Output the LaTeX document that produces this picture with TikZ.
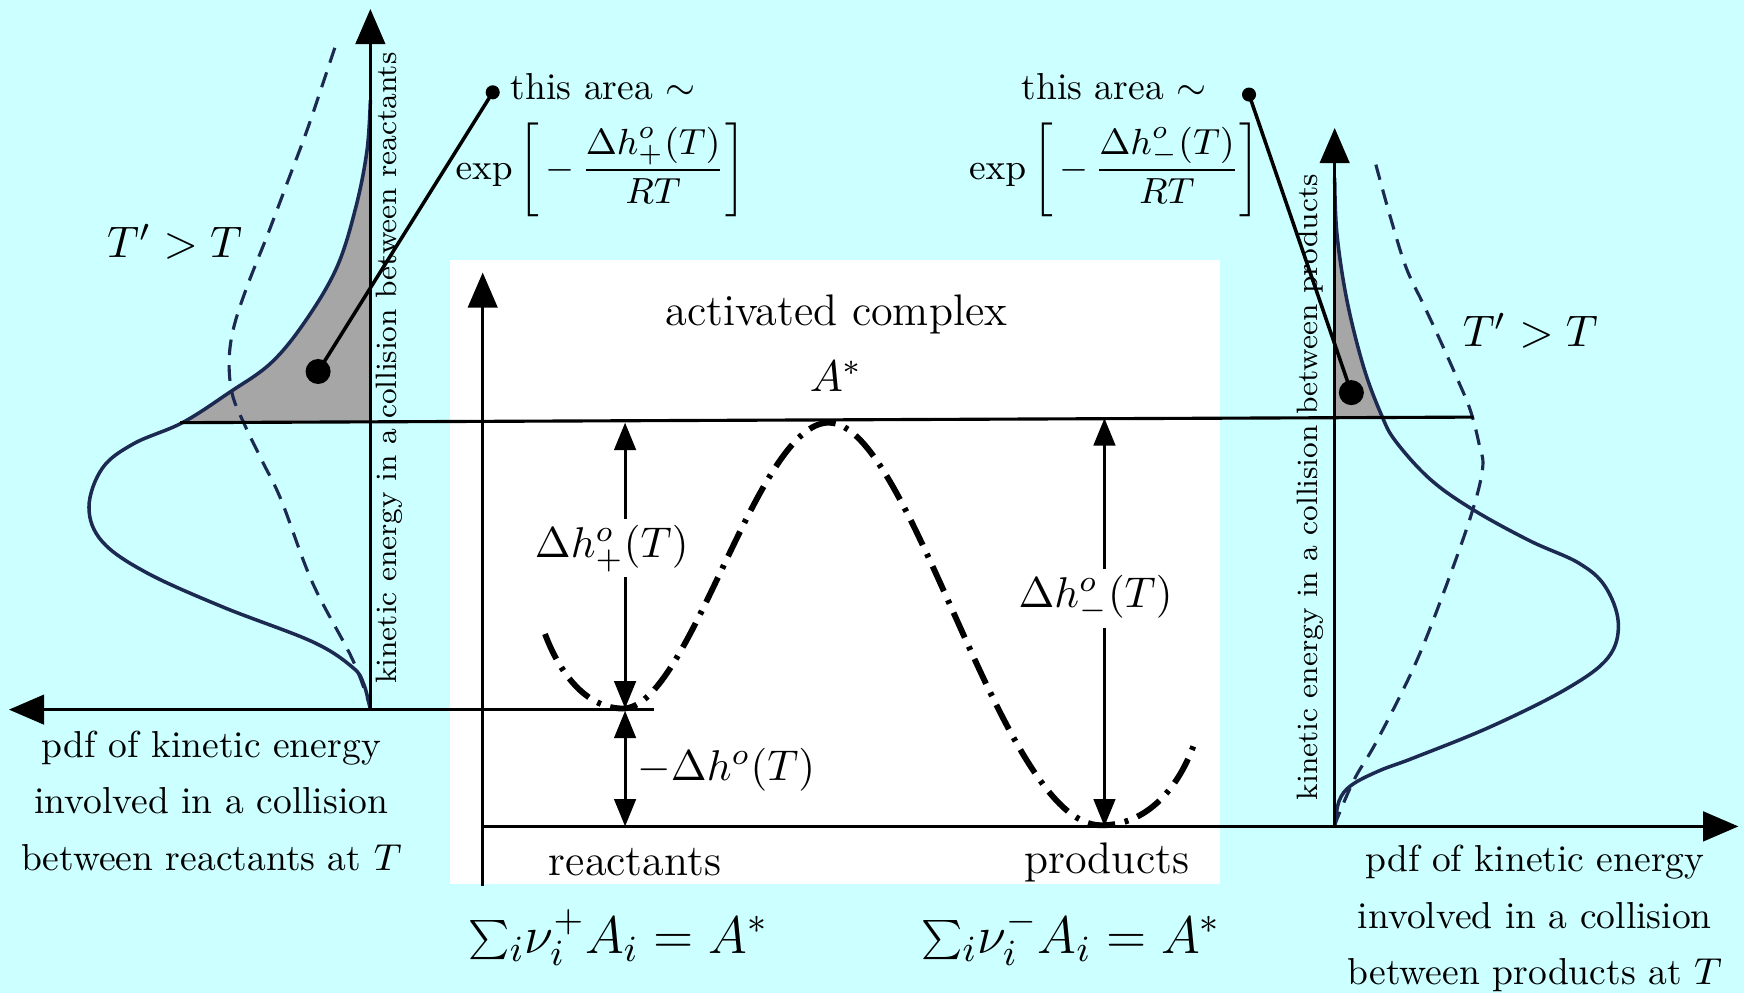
\documentclass[tikz,border=0pt]{standalone}
\usepackage{fix-cm}
\usetikzlibrary{arrows.meta}
\definecolor{bgcyan}{RGB}{204,255,255}
\definecolor{pdfcol}{RGB}{28,42,82}
\tikzset{
  axisline/.style={line width=0.9pt, -{Triangle[length=9pt,width=7.5pt]}},
  dimarrow/.style={line width=0.8pt, {Triangle[length=7pt,width=5.5pt]}-{Triangle[length=7pt,width=5.5pt]}},
  levelline/.style={line width=0.8pt},
  pdfcurve/.style={pdfcol, line width=0.9pt},
  pdfdash/.style={pdfcol, line width=0.8pt, dash pattern=on 4pt off 2.6pt},
  energycurve/.style={line width=1.5pt, dash pattern=on 7pt off 2.5pt on 1pt off 2.5pt},
  bigdot/.style={circle, fill=black, inner sep=0pt, minimum size=6.4pt},
  smalldot/.style={circle, fill=black, inner sep=0pt, minimum size=3.6pt},
  pdftext/.style={align=center, font=\fontsize{9.6}{14.4}\selectfont},
  midtext/.style={font=\fontsize{11.3}{13}\selectfont},
  dimtext/.style={font=\fontsize{11}{13}\selectfont},
  areatext/.style={font=\fontsize{9.6}{12}\selectfont},
  exptext/.style={font=\fontsize{9.3}{12}\selectfont},
  kintext/.style={font=\fontsize{7.55}{9}\selectfont, rotate=90, inner sep=0pt},
  tlabel/.style={font=\fontsize{11.3}{14}\selectfont},
  sumtext/.style={font=\fontsize{13.5}{16}\selectfont},
  whitelabel/.style={fill=white, inner sep=1.5pt, font=\fontsize{11}{13}\selectfont}
}
\begin{document}
\begin{tikzpicture}[x=0.01cm,y=-0.01cm]
\fill[bgcyan] (0,0) rectangle (1568,893);
\useasboundingbox (0,0) rectangle (1568,893);
\fill[white] (405,234) rectangle (1097,795);

% key coordinates
\coordinate (LO) at (333,638);
\coordinate (LTop) at (333,8);
\coordinate (LLeft) at (8,638);
\coordinate (ReacEnd) at (588,638);
\coordinate (ActL) at (162,380);
\coordinate (ActR) at (1325,375);
\coordinate (MBot) at (434,797);
\coordinate (MTop) at (434,245);
\coordinate (BaseL) at (434,743);
\coordinate (BaseR) at (1563,743);
\coordinate (RO) at (1200,743);
\coordinate (RTop) at (1200,115);
\coordinate (DpTop) at (562,380);
\coordinate (DpBot) at (562,637);
\coordinate (DrTop) at (562,639);
\coordinate (DrBot) at (562,743);
\coordinate (DmTop) at (993,376);
\coordinate (DmBot) at (993,743);

% gray areas
\begin{scope}
  \clip (0,0) rectangle (333,380);
  \fill[gray!70] plot[smooth, tension=0.6] coordinates {(333,638) (327,615) (317,600) (281,577) (201,546) (132,515) (92,487) (80,456) (92,421) (120,399) (164,380) (206,353) (244,326) (275,288) (303,240) (320,186) (330,135) (333,90)} -- cycle;
\end{scope}
\begin{scope}
  \clip (1200,0) rectangle (1568,375.5);
  \fill[gray!70] plot[smooth, tension=0.6] coordinates {(1200,743) (1204,720) (1215,706) (1240,693) (1272,681) (1341,653) (1409,619) (1446,591) (1455,560) (1443,527) (1419,506) (1375,486) (1324,458) (1286,431) (1255,397) (1242,373) (1226,330) (1211,270) (1202,210) (1200,160)} -- cycle;
\end{scope}

% pdf curves
\draw[pdfcurve] plot[smooth, tension=0.6] coordinates {(333,638) (327,615) (317,600) (281,577) (201,546) (132,515) (92,487) (80,456) (92,421) (120,399) (164,380) (206,353) (244,326) (275,288) (303,240) (320,186) (330,135) (333,90)};
\draw[pdfdash] plot[smooth, tension=0.6] coordinates {(301,43) (288,82) (275,120) (258,165) (241,210) (222,258) (210,295) (206,325) (209,355) (220,382) (236,415) (253,450) (281,524) (317,593) (333,636)};
\draw[pdfcurve] plot[smooth, tension=0.6] coordinates {(1200,743) (1204,720) (1215,706) (1240,693) (1272,681) (1341,653) (1409,619) (1446,591) (1455,560) (1443,527) (1419,506) (1375,486) (1324,458) (1286,431) (1255,397) (1242,373) (1226,330) (1211,270) (1202,210) (1200,160)};
\draw[pdfdash] plot[smooth, tension=0.6] coordinates {(1237,148) (1250,195) (1264,240) (1279,272) (1293,302) (1310,340) (1322,369) (1330,400) (1333,421) (1323,462) (1299,530) (1272,598) (1238,666) (1218,700) (1203,734) (1200,743)};

% axes and levels
\draw[axisline] (LO) -- (LTop);
\draw[axisline] (ReacEnd) -- (LLeft);
\draw[levelline] (ActL) -- (ActR);
\draw[axisline] (MBot) -- (MTop);
\draw[axisline] (BaseL) -- (BaseR);
\draw[axisline] (RO) -- (RTop);

% energy curve
\draw[energycurve] (490,570) .. controls (505,610) and (530,637) .. (560,637)
  .. controls (620,637) and (680,380) .. (745,380)
  .. controls (820,380) and (900,742) .. (990,742)
  .. controls (1030,742) and (1060,710) .. (1075,665);

% dimension arrows
\draw[dimarrow] (DpTop) -- (DpBot);
\node[whitelabel] (dhp) at (550,493) {$\Delta h^o_+(T)$};
\draw[dimarrow] (DrTop) -- (DrBot);
\node[dimtext] (dh) at (653,692) {$-\Delta h^o(T)$};
\draw[dimarrow] (DmTop) -- (DmBot);
\node[whitelabel] (dhm) at (985,538) {$\Delta h^o_-(T)$};

% middle texts
\node[midtext] (act) at (752,283) {activated complex};
\node[midtext] (astar) at (752,338) {$A^*$};
\node[midtext] (reac) at (571,775) {reactants};
\node[midtext] (prod) at (995,775) {products};
\node[sumtext] (sumL) at (556,843) {$\sum_i\!\nu_i^+ A_i = A^*$};
\node[sumtext] (sumR) at (963,843) {$\sum_i\!\nu_i^- A_i = A^*$};

% left annotations
\node[bigdot] (dotL) at (286,334) {};
\node[smalldot] (sdotL) at (443,83) {};
\draw[line width=0.9pt] (dotL.center) -- (sdotL.center);
\node[areatext, anchor=west] (areaL) at (447,78) {this area $\sim$};
\node[exptext] (expL) at (540,153) {$\exp\left[\,-\,\displaystyle\frac{\Delta h^o_+(T)}{RT}\right]$};
\node[tlabel] (TL) at (157,217) {$T' > T$};
\node[kintext] (kinL) at (350,331) {kinetic energy in a collision between reactants};
\node[pdftext] (pdfL) at (190,720) {pdf of kinetic energy\\involved in a collision\\between reactants at $T$};

% right annotations
\node[bigdot] (dotR) at (1215,353) {};
\node[smalldot] (sdotR) at (1123,85) {};
\draw[line width=0.9pt] (dotR.center) -- (sdotR.center);
\node[areatext, anchor=east] (areaR) at (1097,78) {this area $\sim$};
\node[exptext] (expR) at (1002,153) {$\exp\left[\,-\,\displaystyle\frac{\Delta h^o_-(T)}{RT}\right]$};
\node[tlabel] (TR) at (1376,297) {$T' > T$};
\node[kintext] (kinR) at (1178,438) {kinetic energy in a collision between products};
\node[pdftext] (pdfR) at (1380,826) {pdf of kinetic energy\\involved in a collision\\between products at $T$};
\end{tikzpicture}
\end{document}
